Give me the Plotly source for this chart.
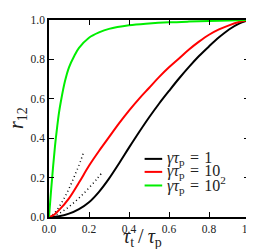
import plotly.graph_objects as go

x_black = [0, 0.05, 0.1, 0.15, 0.2, 0.25, 0.3, 0.35, 0.4, 0.45, 0.5, 0.55, 0.6, 0.65, 0.7, 0.75, 0.8, 0.85, 0.9, 0.95, 1.0]
y_black = [0, 0.004, 0.017, 0.04, 0.075, 0.128, 0.195, 0.272, 0.352, 0.43, 0.505, 0.575, 0.64, 0.703, 0.762, 0.817, 0.866, 0.912, 0.952, 0.982, 1.0]

x_red = [0, 0.02, 0.05, 0.1, 0.15, 0.2, 0.25, 0.3, 0.35, 0.4, 0.45, 0.5, 0.55, 0.6, 0.65, 0.7, 0.75, 0.8, 0.85, 0.9, 0.95, 1.0]
y_red = [0, 0.008, 0.035, 0.095, 0.175, 0.26, 0.335, 0.405, 0.475, 0.54, 0.6, 0.655, 0.71, 0.76, 0.805, 0.85, 0.89, 0.925, 0.952, 0.973, 0.99, 1.0]

x_green = [0, 0.01, 0.02, 0.03, 0.04, 0.05, 0.06, 0.08, 0.1, 0.125, 0.15, 0.2, 0.25, 0.3, 0.4, 0.5, 0.6, 0.7, 0.8, 0.9, 1.0]
y_green = [0, 0.13, 0.25, 0.36, 0.45, 0.53, 0.59, 0.69, 0.76, 0.815, 0.858, 0.91, 0.937, 0.955, 0.973, 0.982, 0.988, 0.992, 0.995, 0.998, 1.0]

x_dot_a = [0, 0.02, 0.04, 0.06, 0.08, 0.1, 0.12, 0.14, 0.16, 0.175]
y_dot_a = [0, 0.013, 0.036, 0.067, 0.103, 0.144, 0.19, 0.238, 0.29, 0.335]

x_dot_b = [0, 0.04, 0.08, 0.12, 0.16, 0.2, 0.24, 0.265]
y_dot_b = [0, 0.013, 0.037, 0.069, 0.106, 0.148, 0.194, 0.225]

colors = ["black", "#ff0000", "#00ee00"]
SP = "\u2004"
labels = [f"<i>γτ</i><sub>p</sub>{SP}={SP}1",
          f"<i>γτ</i><sub>p</sub>{SP}={SP}10",
          f"<i>γτ</i><sub>p</sub>{SP}={SP}10<sup>2</sup>"]

SERIF = "Liberation Serif"

fig = go.Figure()
for xs, ys in [(x_dot_a, y_dot_a), (x_dot_b, y_dot_b)]:
    fig.add_trace(go.Scatter(x=xs, y=ys, mode="lines", showlegend=False,
                             line=dict(color="black", width=1.5, dash="1px,3px", shape="spline")))
for xs, ys, c, name in [(x_black, y_black, colors[0], labels[0]),
                        (x_red, y_red, colors[1], labels[1]),
                        (x_green, y_green, colors[2], labels[2])]:
    fig.add_trace(go.Scatter(x=xs, y=ys, mode="lines", name=name, showlegend=False,
                             line=dict(color=c, width=2, shape="spline")))

axis_common = dict(range=[0, 1], tickmode="linear", tick0=0, dtick=0.2, tickformat=".1f",
                   ticks="inside", ticklen=5, tickwidth=1.2, tickcolor="black",
                   showline=True, linecolor="black", linewidth=1.5, mirror="ticks",
                   showgrid=False, zeroline=False,
                   tickfont=dict(family=SERIF, size=11.5, color="#222"))

# manual legend (layout decoration)
legend_rows = [0.295, 0.229, 0.160]
shapes = []
annotations = []
for yr, c, lab in zip(legend_rows, colors, labels):
    shapes.append(dict(type="line", xref="paper", yref="paper", x0=0.478, x1=0.566, y0=yr, y1=yr,
                       line=dict(color=c, width=2)))
    annotations.append(dict(xref="paper", yref="paper", x=0.582, y=yr, xanchor="left", yanchor="middle",
                            text=lab, showarrow=False, font=dict(family=SERIF, size=16, color="#222")))

annotations.append(dict(xref="paper", yref="paper", x=0.468, y=-0.102, xanchor="center", yanchor="middle",
                        text="<i>τ</i><sub>t</sub>\u2009/\u2009<i>τ</i><sub>p</sub>", showarrow=False,
                        font=dict(family=SERIF, size=20, color="#222")))
annotations.append(dict(xref="paper", yref="paper", x=-0.158, y=0.504, xanchor="center", yanchor="middle",
                        text="<i>r</i><sub>12</sub>", showarrow=False, textangle=-90,
                        font=dict(family=SERIF, size=20, color="#222")))

fig.update_layout(
    width=254, height=249,
    margin=dict(l=41, r=9, t=6, b=40),
    paper_bgcolor="white", plot_bgcolor="white",
    font=dict(family=SERIF, color="black"),
    xaxis=axis_common,
    yaxis=axis_common,
    showlegend=False,
    shapes=shapes,
    annotations=annotations,
)

fig.write_html("out.html")
